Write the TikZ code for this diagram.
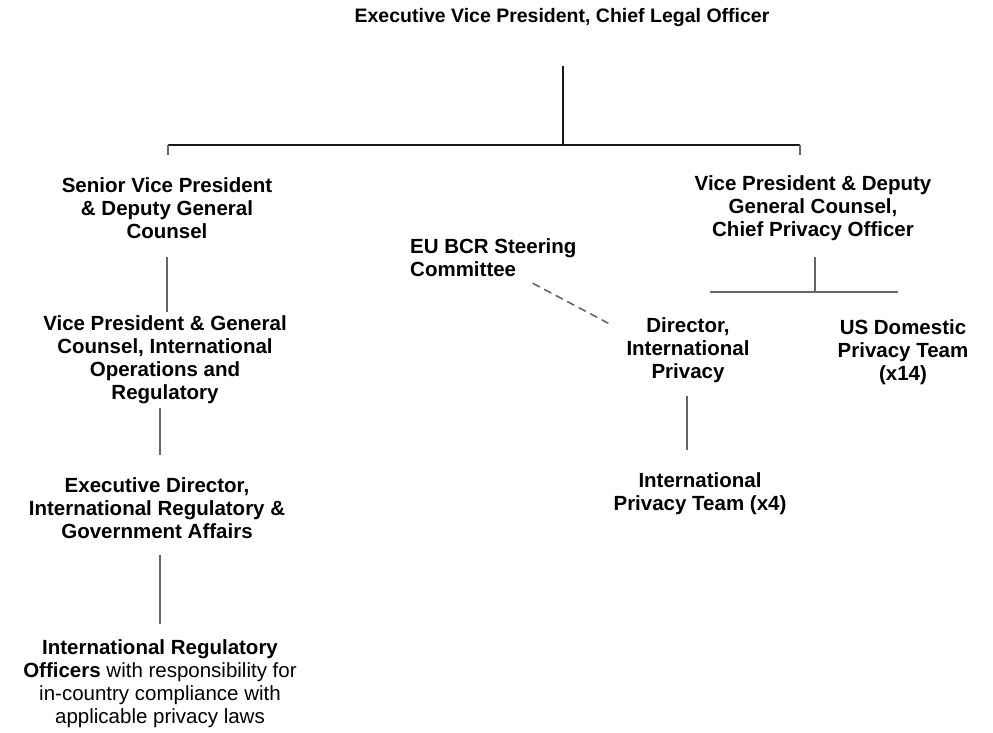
\documentclass[tikz,border=0pt]{standalone}
\usepackage{fontspec}
\setmainfont{Liberation Sans}
\tikzset{
  role/.style={align=center,inner sep=0pt,font=\bfseries\fontsize{20.5}{23}\selectfont},
  plainrole/.style={align=center,inner sep=0pt,font=\fontsize{20.5}{23}\selectfont},
  head/.style={inner sep=0pt,font=\bfseries\fontsize{19.5}{22}\selectfont},
  trunk/.style={line width=2.4pt,black!90},
  link/.style={line width=1.6pt,black!60},
}
\begin{document}
\begin{tikzpicture}[x=1pt,y=-1pt]
\useasboundingbox (0,0) rectangle (993,733);
% top
\node[head] (evp) at (562,18) {Executive Vice President, Chief Legal Officer};
\coordinate (split) at (563,145);
\coordinate (barL) at (168,145);
\coordinate (barR) at (800,145);
\draw[trunk,shorten <=39pt] (evp.south -| split) -- (split);
\draw[trunk] (barL) -- (barR);
\draw[link] (barL) -- ++(0,10);
\draw[link] (barR) -- ++(0,10);
% left
\node[role] (svp) at (167,208) {Senior Vice President\\\& Deputy General\\Counsel};
\node[role] (vpgc) at (165,360) {Vice President \& General\\Counsel, International\\Operations and\\Regulatory};
\node[role] (edir) at (157,508) {Executive Director,\\International Regulatory \&\\Government Affairs};
\node[plainrole] (iro) at (160,684) {\textbf{International Regulatory}\\\textbf{Officers} with responsibility for\\in-country compliance with\\applicable privacy laws};
\draw[link,shorten <=18pt,shorten >=4pt] (svp.south) -- (svp.south |- vpgc.north);
\draw[link,shorten <=4pt,shorten >=22pt] (vpgc.south -| 160,0) -- (edir.north -| 160,0);
\draw[link,shorten <=16pt,shorten >=16pt] (edir.south -| 160,0) -- (iro.north -| 160,0);
% right
\node[role] (vpd) at (813,208) {Vice President \& Deputy\\General Counsel,\\Chief Privacy Officer};
\coordinate (rsplit) at (815,292);
\coordinate (rbarL) at (710,292);
\coordinate (rbarR) at (898,292);
\draw[link,shorten <=16pt] (vpd.south -| rsplit) -- (rsplit);
\draw[link] (rbarL) -- (rbarR);
\node[role] (dir) at (688,350) {Director,\\International\\Privacy};
\node[role] (usp) at (903,352) {US Domestic\\Privacy Team\\(x14)};
\node[role] (ipt) at (700,494) {International\\Privacy Team (x4)};
\draw[link,shorten <=13pt,shorten >=23pt] (dir.south -| 687,0) -- (ipt.north -| 687,0);
% steering
\node[role,align=left,anchor=west] (eubcr) at (410,258) {EU BCR Steering\\Committee};
\draw[link,dashed,dash pattern=on 8pt off 5pt] ([shift={(-44,6)}]eubcr.south east) -- ([shift={(-18,6)}]dir.north west);
\end{tikzpicture}
\end{document}
